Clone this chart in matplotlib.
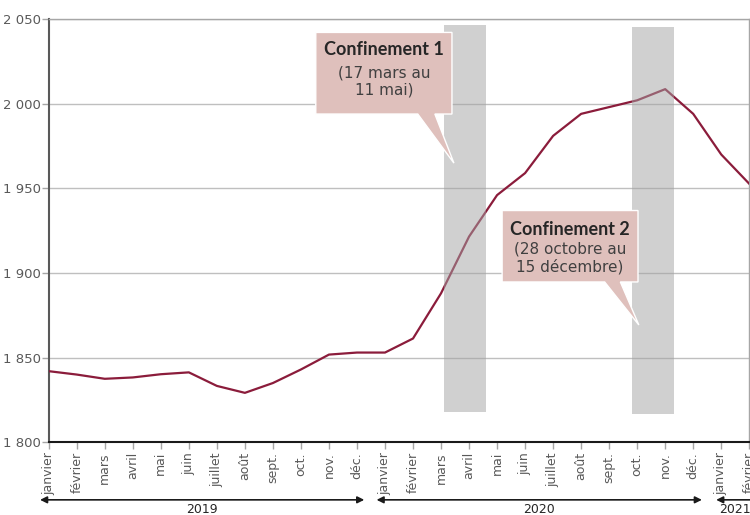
import matplotlib
matplotlib.use("Agg")
import matplotlib.pyplot as plt
from matplotlib.patches import Polygon, Rectangle
import numpy as np

months = ["janvier", "février", "mars", "avril", "mai", "juin", "juillet", "août",
          "sept.", "oct.", "nov.", "déc.",
          "janvier", "février", "mars", "avril", "mai", "juin", "juillet", "août",
          "sept.", "oct.", "nov.", "déc.",
          "janvier", "février"]
values = [1842, 1840, 1837.5, 1838.3, 1840.2, 1841.3, 1833.3, 1829.2, 1835, 1843,
          1851.8, 1853, 1853, 1861.3, 1888, 1921.5, 1946, 1959, 1981, 1994,
          1998, 2002, 2008.6, 1994, 1970, 1952.7]
years = ["2019", "2020", "2021"]
yticks = [1800, 1850, 1900, 1950, 2000, 2050]
ytick_labels = ["1 800", "1 850", "1 900", "1 950", "2 000", "2 050"]

# lockdown periods (month index positions) and bar y extent
conf_x = [(14.12, 15.62), (20.81, 22.33)]
conf_y = [(1817.7, 2046.6), (1816.9, 2045.5)]
conf_title = ["Confinement 1", "Confinement 2"]
conf_sub = ["(17 mars au\n11 mai)", "(28 octobre au\n15 décembre)"]

LINE = "#8b1c3b"
GRAY_TXT = "#595959"
BOX = "#dfc0bc"

fig = plt.figure(figsize=(7.5, 5.15), dpi=100)
ax = fig.add_axes([0.065, 0.1412, 0.934, 0.8218])
x = np.arange(len(values))
ax.plot(x, values, color=LINE, lw=1.6, zorder=3)

for (x0, x1), (y0, y1) in zip(conf_x, conf_y):
    ax.add_patch(Rectangle((x0, y0), x1 - x0, y1 - y0, facecolor="#a3a3a3",
                           alpha=0.5, edgecolor="none", zorder=4, clip_on=False))

ax.set_xlim(0, 25)
ax.set_ylim(1800, 2050)
ax.set_yticks(yticks)
ax.set_yticklabels(ytick_labels)
ax.set_xticks(x)
ax.set_xticklabels(months, rotation=90, va="top", ha="center")
ax.grid(axis="y", color="#bfbfbf", lw=1, zorder=0)
ax.set_axisbelow(True)
for s in ["top", "right"]:
    ax.spines[s].set_color("#a6a6a6")
    ax.spines[s].set_linewidth(1)
ax.spines["left"].set_color("#595959")
ax.spines["left"].set_linewidth(1.5)
ax.spines["bottom"].set_color("#1a1a1a")
ax.spines["bottom"].set_linewidth(1.5)
ax.tick_params(axis="y", colors="#a6a6a6", labelcolor=GRAY_TXT, length=5, width=1,
               labelsize=9.5, pad=0.5)
ax.tick_params(axis="x", colors="#a6a6a6", labelcolor=GRAY_TXT, length=5, width=1,
               labelsize=9, pad=2)

# callouts
boxes = [
    dict(x0=9.53, x1=14.39, y0=1993.9, y1=2042.1, b0=13.17, b1=13.78, tip=(14.46, 1964.9),
         ty=(2032.3, 2018.0, 2008.2)),
    dict(x0=16.18, x1=21.03, y0=1894.7, y1=1936.9, b0=19.84, b1=20.40, tip=(21.06, 1869.3),
         ty=(1925.9, 1913.9, 1903.7)),
]
for i, b in enumerate(boxes):
    pts = [(b["x0"], b["y1"]), (b["x1"], b["y1"]), (b["x1"], b["y0"]), (b["b1"], b["y0"]),
           b["tip"], (b["b0"], b["y0"]), (b["x0"], b["y0"])]
    ax.add_patch(Polygon(pts, closed=True, facecolor=BOX, edgecolor="white", lw=1,
                         zorder=5))
    cx = (b["x0"] + b["x1"]) / 2
    ax.text(cx, b["ty"][0], conf_title[i], ha="center", va="center", fontsize=13,
            fontweight="bold", color="#262626", zorder=6, family="Lato")
    l1, l2 = conf_sub[i].split("\n")
    ax.text(cx, b["ty"][1], l1, ha="center", va="center", fontsize=11,
            color="#404040", zorder=6)
    ax.text(cx, b["ty"][2], l2, ha="center", va="center", fontsize=11,
            color="#404040", zorder=6)

# year arrows
arrows = [(-0.31, 11.26), (11.70, 23.31), (23.82, 26.5)]
label_x = [5.45, 17.5, 24.5]
trans = ax.get_xaxis_transform()
for (a0, a1), lx, yl in zip(arrows, label_x, years):
    ax.annotate("", xy=(a0, -0.136), xytext=(a1, -0.136), xycoords=trans,
                textcoords=trans,
                arrowprops=dict(arrowstyle="<|-|>", color="#1a1a1a", lw=1.2,
                                mutation_scale=10, shrinkA=0, shrinkB=0),
                annotation_clip=False)
    ax.text(lx, -0.143, yl, transform=trans, ha="center", va="top", fontsize=9,
            color="#262626", clip_on=False)

fig.savefig("out.png", dpi=100)
